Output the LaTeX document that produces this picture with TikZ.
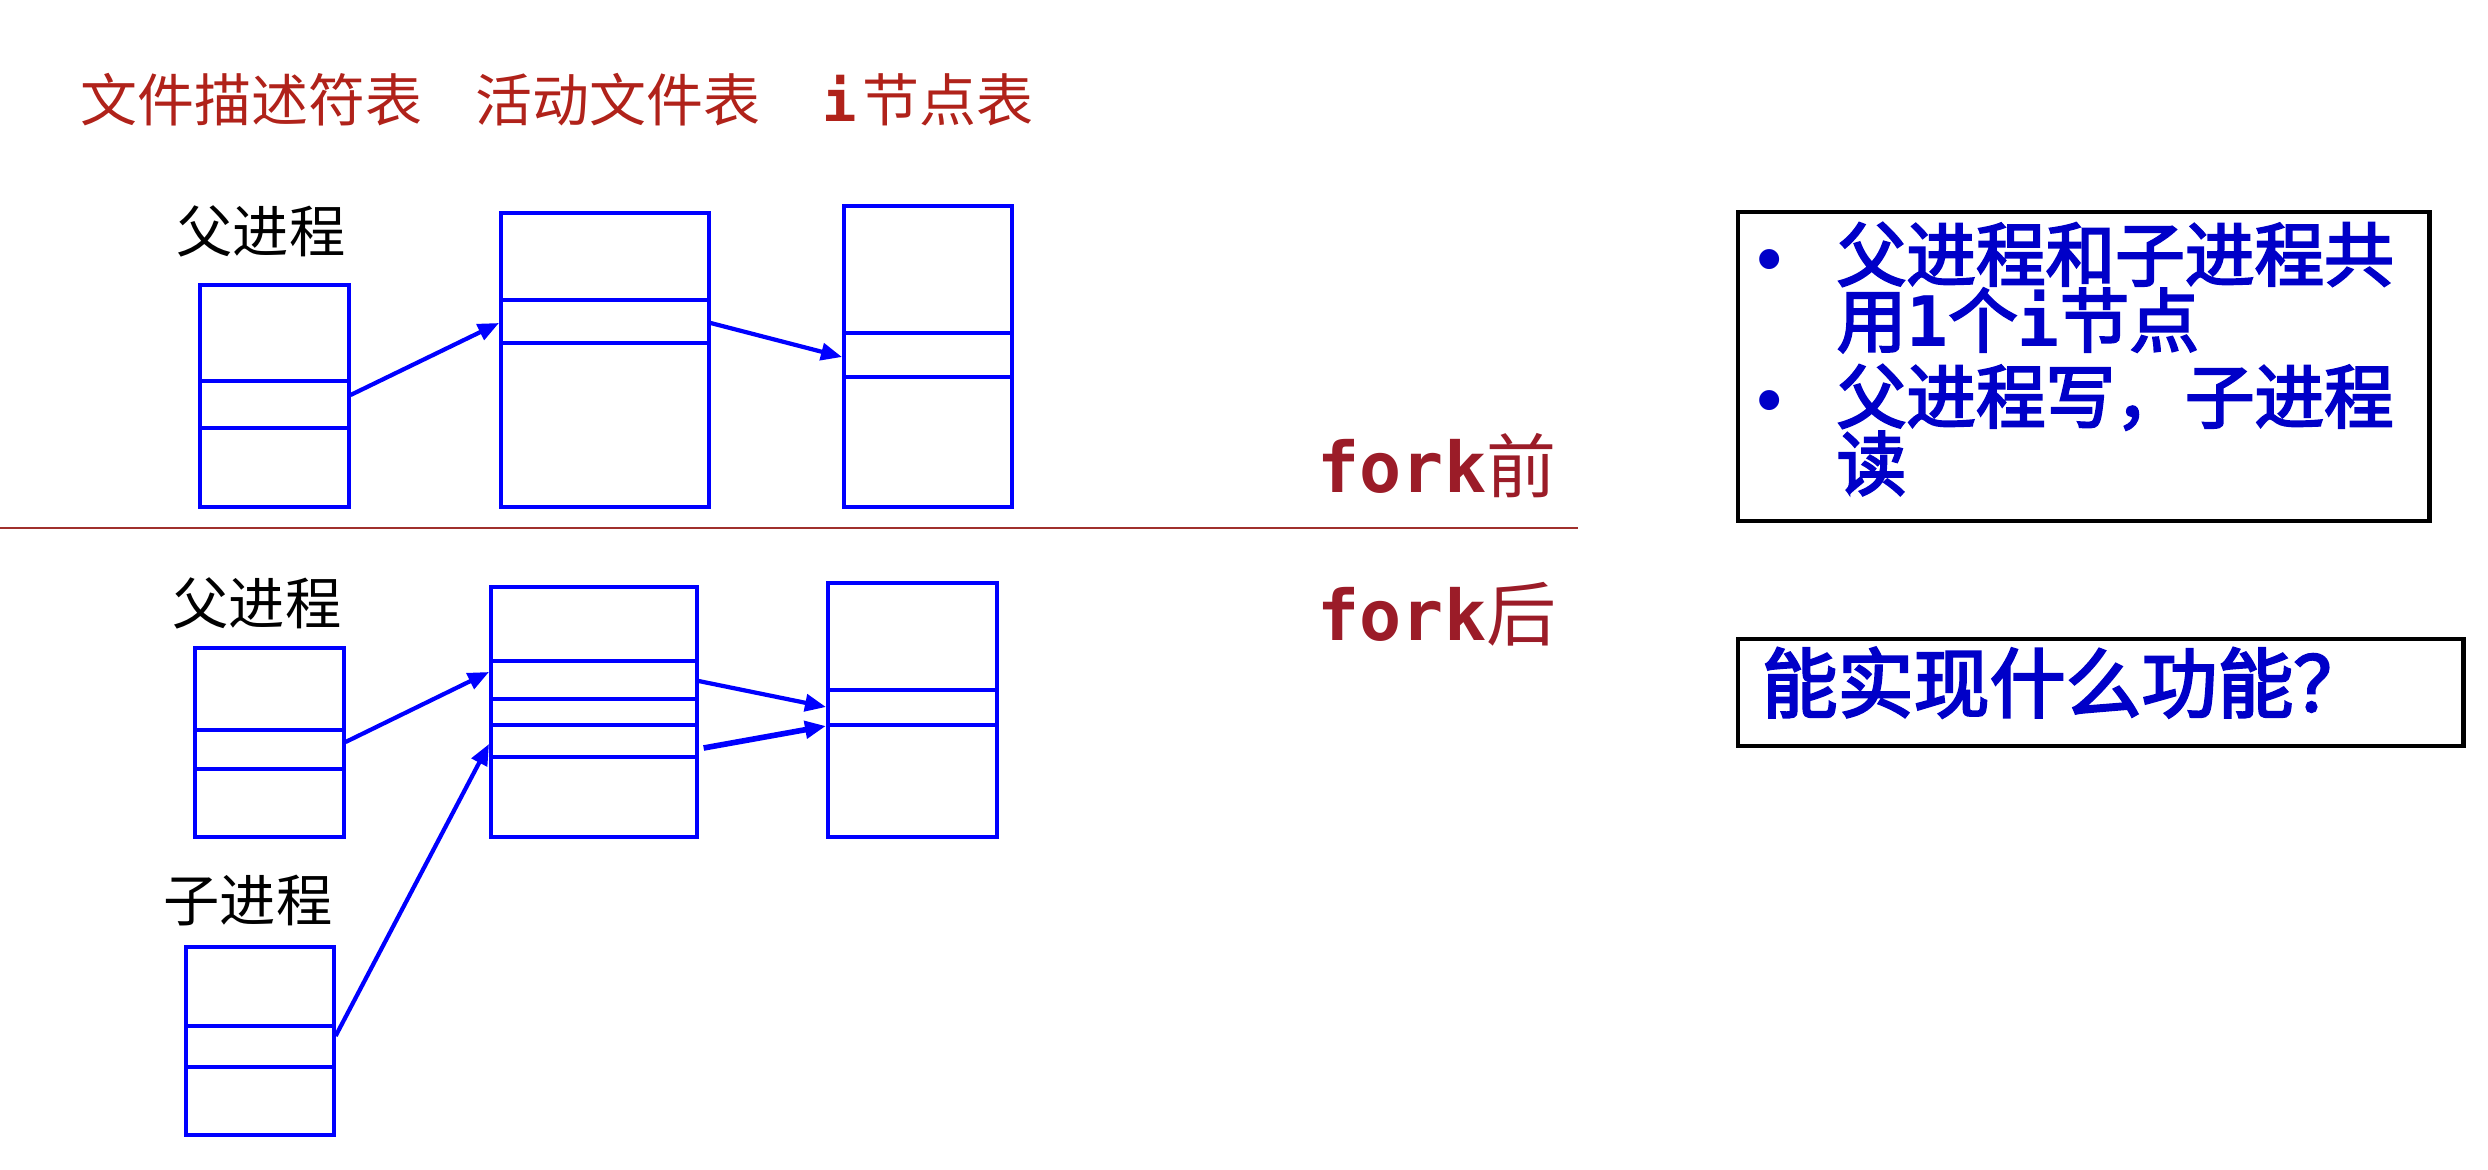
\documentclass[tikz,border=0pt]{standalone}
\usepackage{fontspec}
\setmainfont{Liberation Sans}
\newfontfamily\cjk{Noto Sans CJK SC}[BoldFont={Noto Sans CJK SC Bold}]
\newfontfamily\cjkm{Noto Sans CJK SC}[FakeBold=3]
\newfontfamily\monof{DejaVu Sans Mono}
\usetikzlibrary{arrows.meta}
\definecolor{titlered}{RGB}{176,34,26}
\definecolor{forkred}{RGB}{155,28,40}
\definecolor{linered}{RGB}{160,48,44}
\definecolor{tblblue}{RGB}{0,0,255}
\definecolor{txtblue}{RGB}{0,0,200}
\begin{document}
\begin{tikzpicture}[x=0.01cm,y=-0.01cm,
  tbl/.style={draw=tblblue, line width=1.0pt, inner sep=0, anchor=north west},
  div/.style={draw=tblblue, line width=1.0pt},
  arr/.style={draw=tblblue, line width=1.2pt, -{Triangle[length=0.21cm,width=0.17cm]}},
  arrthick/.style={arr, line width=1.6pt},
  title/.style={text=titlered, font=\cjk\fontsize{16.2pt}{16.2pt}\selectfont, inner sep=0, anchor=west, text height=13.4pt, text depth=1.2pt},
  lbl/.style={text=black, font=\cjk\fontsize{16pt}{16pt}\selectfont, inner sep=0, text height=13.3pt, text depth=1.1pt},
  forkl/.style={text=forkred, font=\fontsize{19.9pt}{19.9pt}\selectfont, inner sep=0, anchor=base west},
  note/.style={draw=black, line width=1.2pt, inner sep=0, anchor=north west},
  btxt/.style={text=txtblue, font=\cjkm\fontsize{19.8pt}{19.8pt}\selectfont, inner sep=0, anchor=west, text height=16pt, text depth=2pt},
  bul/.style={text=txtblue, font=\bfseries\fontsize{19.8pt}{19.8pt}\selectfont, inner sep=0, anchor=base},
  qtxt/.style={text=txtblue, font=\cjkm\fontsize{21.6pt}{21.6pt}\selectfont, inner sep=0, anchor=west, text height=17.9pt, text depth=1.6pt},
]
\useasboundingbox (0,0) rectangle (2488,1170);

% titles
\node[title] (t1) at (80,100) {文件描述符表};
\node[title] (t2) at (475,100) {活动文件表};
\node[title] (t3) at (822,100) {{\monof\bfseries i}\kern1.5pt 节点表};

% ---------- before fork ----------
\node[lbl] (lp1) at (261,231) {父进程};
\node[tbl, minimum width=1.49cm, minimum height=2.22cm] (fd1) at (198,283) {};
\draw[div] (fd1.west |- 0,381) -- (fd1.east |- 0,381);
\draw[div] (fd1.west |- 0,428) -- (fd1.east |- 0,428);

\node[tbl, minimum width=2.08cm, minimum height=2.94cm] (aft1) at (499,211) {};
\draw[div] (aft1.west |- 0,300) -- (aft1.east |- 0,300);
\draw[div] (aft1.west |- 0,343) -- (aft1.east |- 0,343);

\node[tbl, minimum width=1.68cm, minimum height=3.01cm] (ino1) at (842,204) {};
\draw[div] (ino1.west |- 0,333) -- (ino1.east |- 0,333);
\draw[div] (ino1.west |- 0,377) -- (ino1.east |- 0,377);

\draw[arr] (fd1.east |- 0,395) -- (aft1.west |- 0,323);
\draw[arr] (aft1.east |- 0,323) -- (ino1.west |- 0,357);

\node[forkl] (fk1) at (1317,492) {{\monof\bfseries fork}{\cjk 前}};

% separator
\coordinate (sepL) at (0,528);
\coordinate (sepR) at (1578,528);
\draw[linered, line width=0.7pt] (sepL) -- (sepR);

% ---------- after fork ----------
\node[forkl] (fk2) at (1317,640) {{\monof\bfseries fork}{\cjk 后}};

\node[lbl] (lp2) at (257,603) {父进程};
\node[tbl, minimum width=1.49cm, minimum height=1.89cm] (fd2) at (193,646) {};
\draw[div] (fd2.west |- 0,730) -- (fd2.east |- 0,730);
\draw[div] (fd2.west |- 0,769) -- (fd2.east |- 0,769);

\node[tbl, minimum width=2.06cm, minimum height=2.50cm] (aft2) at (489,585) {};
\draw[div] (aft2.west |- 0,661) -- (aft2.east |- 0,661);
\draw[div] (aft2.west |- 0,699) -- (aft2.east |- 0,699);
\draw[div] (aft2.west |- 0,725) -- (aft2.east |- 0,725);
\draw[div] (aft2.west |- 0,757) -- (aft2.east |- 0,757);

\node[tbl, minimum width=1.69cm, minimum height=2.54cm] (ino2) at (826,581) {};
\draw[div] (ino2.west |- 0,690) -- (ino2.east |- 0,690);
\draw[div] (ino2.west |- 0,725) -- (ino2.east |- 0,725);

\node[lbl] (lc) at (248,900) {子进程};
\node[tbl, minimum width=1.48cm, minimum height=1.88cm] (fdc) at (184,945) {};
\draw[div] (fdc.west |- 0,1026) -- (fdc.east |- 0,1026);
\draw[div] (fdc.west |- 0,1067) -- (fdc.east |- 0,1067);

\draw[arr] (fd2.east |- 0,742) -- (aft2.west |- 0,672);
\draw[arr] (fdc.east |- 0,1036) -- (aft2.west |- 0,744);
\draw[arr] (aft2.east |- 0,681) -- (ino2.west |- 0,707);
\draw[arrthick] ([xshift=0.05cm]aft2.east |- 0,748) -- (ino2.west |- 0,726);

% ---------- notes ----------
\node[note, minimum width=6.91cm, minimum height=3.09cm] (n1) at (1736,210) {};
\node[bul] (b1) at (1770,282) {•};
\node[btxt] (l1) at (1836,256) {父进程和子进程共};
\node[btxt] (l2) at (1836,322) {用{\monof\bfseries 1}个{\monof\bfseries i}节点};
\node[bul] (b2) at (1770,423) {•};
\node[btxt] (l3) at (1836,398) {父进程写，子进程};
\node[btxt] (l4) at (1836,465) {读};

\node[note, minimum width=7.25cm, minimum height=1.07cm] (n2) at (1736,637) {};
\node[qtxt] (q) at (1761,683) {能实现什么功能？};
\end{tikzpicture}
\end{document}
